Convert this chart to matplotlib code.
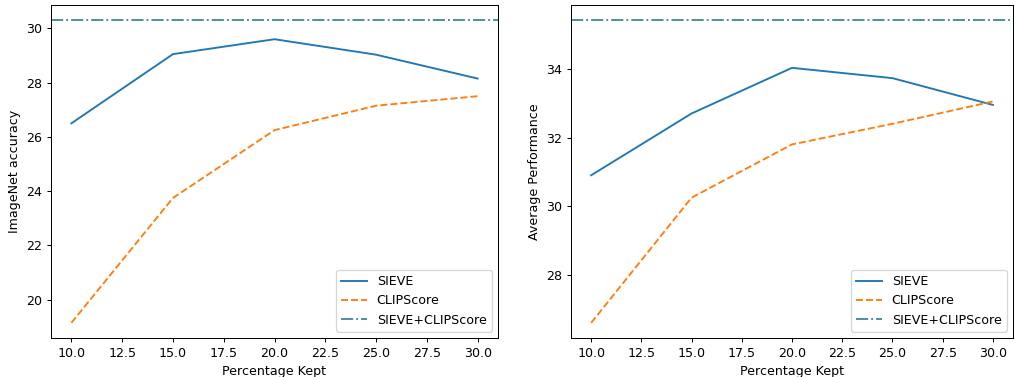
import matplotlib
matplotlib.use("Agg")
import matplotlib.pyplot as plt

pct_kept = [10, 15, 20, 25, 30]
imagenet_sieve = [26.5, 29.05, 29.6, 29.03, 28.15]
imagenet_clipscore = [19.15, 23.75, 26.25, 27.15, 27.5]
imagenet_combined = 30.3
avg_sieve = [30.9, 32.7, 34.03, 33.73, 32.95]
avg_clipscore = [26.6, 30.25, 31.8, 32.4, 33.05]
avg_combined = 35.42

combo_color = "#4a8b9b"

DPI = 91
fig = plt.figure(figsize=(1015 / DPI, 377 / DPI), dpi=DPI)
ax1 = fig.add_axes([0.0503, 0.1034, 0.4403, 0.8833])
ax2 = fig.add_axes([0.5626, 0.1034, 0.4354, 0.8833])

for ax, s, c, comb, ylabel in [
    (ax1, imagenet_sieve, imagenet_clipscore, imagenet_combined, "ImageNet accuracy"),
    (ax2, avg_sieve, avg_clipscore, avg_combined, "Average Performance"),
]:
    ax.plot(pct_kept, s, color="C0", linestyle="-", label="SIEVE")
    ax.plot(pct_kept, c, color="C1", linestyle="--", label="CLIPScore")
    ax.axhline(comb, color=combo_color, linestyle="-.", label="SIEVE+CLIPScore")
    ax.set_xlabel("Percentage Kept")
    ax.set_ylabel(ylabel)
    ax.legend(loc="lower right")
    ax.set_xticks([10.0, 12.5, 15.0, 17.5, 20.0, 22.5, 25.0, 27.5, 30.0])

ax1.set_ylim(18.59, 30.86)
ax1.set_yticks([20, 22, 24, 26, 28, 30])
ax2.set_ylim(26.16, 35.86)
ax2.set_yticks([28, 30, 32, 34])

fig.savefig("out.png", dpi=DPI)
